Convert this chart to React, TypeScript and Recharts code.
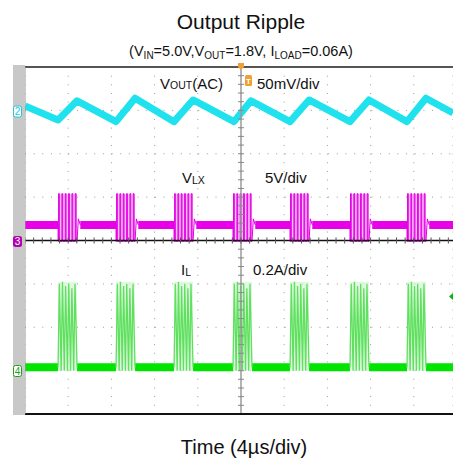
import { CartesianGrid, Line, LineChart, ReferenceArea, XAxis, YAxis } from 'recharts';

// time axis, µs (4µs/div, the 10th division is cropped at the right edge)
const screenEnd = 39.63;
const xMajor = [0, 4, 8, 12, 16, 20, 24, 28, 32, 36];
const yMajor = [-4, -3, -2, -1, 0, 1, 2, 3, 4];
const xMinor = Array.from({ length: 50 }, (_, i) => i * 0.8);
const yMinor = Array.from({ length: 41 }, (_, i) => -4 + i * 0.2);

// switching packets (PFM bursts), µs from left edge
const burstStart = [3.06, 8.43, 13.8, 19.26, 24.54, 30.09, 35.37];
const burstLength = 1.76;

// CH2 VOUT(AC) ripple, mV
const voutT = [0, 3.06, 4.82, 8.43, 10.19, 13.8, 15.56, 19.35, 20.93, 24.54, 26.3, 30.09, 31.85, 35.37, 37.13, 39.63];
const voutMv = [5, -11, 11, -13, 14, -13, 12, -13, 11, -13, 12, -13, 12, -13, 14, -3];

// CH3 VLX, V
const vlxIdle = 1.8;
const vlxHigh = 5.4;
const vlxLow = -0.1;
const vlxPulseRise = [0.05, 0.36, 0.67, 0.98, 1.29, 1.6];
const vlxPulseWidth = 0.07;
const vlxRingT = [0.12, 0.3];
const vlxRingV = [2.5, 1.8];

// CH4 IL, A
const ilIdle = 0.015;
const ilSpikeT = [0, 0.12, 0.29, 0.41, 0.58, 0.7, 0.87, 0.99, 1.16, 1.28, 1.45, 1.57, 1.76];
const ilSpikeA = [0.015, 0.4, 0.0, 0.41, 0.0, 0.39, 0.0, 0.4, 0.0, 0.38, 0.0, 0.4, 0.015];

type Pt = { t: number; v: number | null };

const voutData: Pt[] = voutT.map((t, i) => ({ t, v: voutMv[i] }));

const idleData = (level: number, gapAfter: number): Pt[] => {
  const out: Pt[] = [];
  let prev = 0;
  burstStart.forEach((s) => {
    out.push({ t: prev, v: level }, { t: s, v: level }, { t: s, v: null });
    prev = s + burstLength + gapAfter;
  });
  out.push({ t: prev, v: level }, { t: screenEnd, v: level });
  return out;
};

const vlxIdleData = idleData(vlxIdle, vlxRingT[vlxRingT.length - 1]);
const ilIdleData = idleData(ilIdle, 0);

const vlxBurstData: Pt[] = burstStart.flatMap((s) => [
  { t: s, v: vlxIdle },
  { t: s, v: vlxLow },
  ...vlxPulseRise.flatMap((r) => [
    { t: s + r, v: vlxLow },
    { t: s + r, v: vlxHigh },
    { t: s + r + vlxPulseWidth, v: vlxHigh },
    { t: s + r + vlxPulseWidth, v: vlxLow },
  ]),
  { t: s + burstLength, v: vlxLow },
  ...vlxRingT.map((dt, i) => ({ t: s + burstLength + dt, v: vlxRingV[i] })),
  { t: s + burstLength + 0.31, v: null },
]);

const ilBurstData: Pt[] = burstStart.flatMap((s) => [
  ...ilSpikeT.map((dt, i) => ({ t: s + dt, v: ilSpikeA[i] })),
  { t: s + burstLength + 0.01, v: null },
]);

// centre graticule lines and their minor ticks (in div units)
const centreH: Pt[] = [{ t: 0, v: 0 }, { t: screenEnd, v: 0 }];
const centreV: Pt[] = [{ t: 20, v: -4 }, { t: 20, v: 4 }];
const centreHTicks: Pt[] = xMinor.flatMap((t) => [{ t, v: -0.07 }, { t, v: 0.07 }, { t, v: null }]);
const centreVTicks: Pt[] = yMinor.flatMap((d) => [{ t: 19.72, v: d }, { t: 20.28, v: d }, { t: 20.28, v: null }]);

const FONT = '"Liberation Sans", Arial, sans-serif';

const App = () => {
  return (
    <div style={{ position: 'absolute', left: 0, top: 0, width: 453, height: 460, background: '#fff', overflow: 'hidden' }}>
      <LineChart width={453} height={460} margin={{ top: 67, right: 0, bottom: 46, left: 25 }}>
        <XAxis dataKey="t" type="number" domain={[0, screenEnd]} ticks={xMajor} hide allowDataOverflow />
        <YAxis type="number" domain={[-4, 4]} ticks={yMajor} hide allowDataOverflow />
        <YAxis yAxisId="vout" type="number" domain={[-350, 50]} hide allowDataOverflow />
        <YAxis yAxisId="vlx" type="number" domain={[-20, 20]} hide allowDataOverflow />
        <YAxis yAxisId="il" type="number" domain={[-0.2, 1.4]} hide allowDataOverflow />

        <CartesianGrid stroke="#9a9a9a" strokeDasharray="1 7.66" />

        <XAxis
          xAxisId="top"
          orientation="top"
          mirror
          type="number"
          domain={[0, screenEnd]}
          ticks={xMinor}
          tick={false}
          tickSize={3}
          axisLine={{ stroke: '#555', strokeWidth: 2 }}
          tickLine={{ stroke: '#777' }}
        />
        <XAxis
          xAxisId="bottom"
          orientation="bottom"
          mirror
          type="number"
          domain={[0, screenEnd]}
          ticks={xMinor}
          tick={false}
          tickSize={3}
          axisLine={{ stroke: '#111', strokeWidth: 2 }}
          tickLine={{ stroke: '#777' }}
        />
        <YAxis
          yAxisId="left"
          orientation="left"
          mirror
          type="number"
          domain={[-4, 4]}
          ticks={yMinor}
          tick={false}
          tickSize={3}
          axisLine={{ stroke: '#999' }}
          tickLine={{ stroke: '#888' }}
        />

        {burstStart.map((s) => (
          <ReferenceArea
            key={`va${s}`}
            yAxisId="vlx"
            x1={s}
            x2={s + burstLength}
            y1={vlxLow}
            y2={vlxHigh}
            fill="#f7b4f7"
            fillOpacity={0.85}
            stroke="none"
          />
        ))}
        {burstStart.map((s) => (
          <ReferenceArea
            key={`ia${s}`}
            yAxisId="il"
            x1={s}
            x2={s + burstLength}
            y1={0}
            y2={0.41}
            fill="#d4f7d4"
            fillOpacity={0.7}
            stroke="none"
          />
        ))}

        <Line data={voutData} dataKey="v" yAxisId="vout" stroke="#1fe2ee" strokeWidth={7} dot={false} isAnimationActive={false} strokeLinejoin="round" />
        <Line data={vlxIdleData} dataKey="v" yAxisId="vlx" stroke="#e800e8" strokeWidth={8} dot={false} isAnimationActive={false} />
        <Line data={vlxBurstData} dataKey="v" yAxisId="vlx" stroke="#e400e4" strokeWidth={1} dot={false} isAnimationActive={false} />
        <Line data={ilIdleData} dataKey="v" yAxisId="il" stroke="#00e400" strokeWidth={8} dot={false} isAnimationActive={false} />
        <Line data={ilBurstData} dataKey="v" yAxisId="il" stroke="#5fe05f" strokeWidth={1.3} dot={false} isAnimationActive={false} />

        <Line data={centreV} dataKey="v" stroke="#9a9a9a" strokeWidth={1.5} dot={false} isAnimationActive={false} />
        <Line data={centreVTicks} dataKey="v" stroke="#8a8a8a" strokeWidth={1} dot={false} isAnimationActive={false} />
        <Line data={centreH} dataKey="v" stroke="#111" strokeWidth={1.5} dot={false} isAnimationActive={false} />
        <Line data={centreHTicks} dataKey="v" stroke="#555" strokeWidth={1} dot={false} isAnimationActive={false} />
      </LineChart>

      <svg width={453} height={460} style={{ position: 'absolute', left: 0, top: 0, pointerEvents: 'none' }} fontFamily={FONT}>
        <rect x={13} y={65} width={12} height={350} fill="#c8c8c8" />
        <polygon points="238,63 244,63 244,67 241,70 238,67" fill="#f0a030" />
        <polygon points="449,296.5 453,293 453,300" fill="#10b010" />

        <text x={241} y={29} textAnchor="middle" fontSize={21} fill="#111">Output Ripple</text>
        <text x={241} y={56} textAnchor="middle" fontSize={14.5} fill="#111">
          <tspan>(V</tspan>
          <tspan fontSize={10} dy={3}>IN</tspan>
          <tspan dy={-3}>=5.0V,V</tspan>
          <tspan fontSize={10} dy={3}>OUT</tspan>
          <tspan dy={-3}>=1.8V, I</tspan>
          <tspan fontSize={10} dy={3}>LOAD</tspan>
          <tspan dy={-3}>=0.06A)</tspan>
        </text>

        <text x={160} y={89} fontSize={15} fill="#111">
          V<tspan fontSize={10.5}>OUT</tspan>(AC)
        </text>
        <rect x={245} y={75} width={7} height={11} rx={1.5} fill="#f0a030" />
        <text x={248.5} y={84} textAnchor="middle" fontSize={8} fontWeight="bold" fill="#fff">T</text>
        <text x={257} y={89} fontSize={15} fill="#111">50mV/div</text>

        <text x={182} y={183} fontSize={15} fill="#111">
          V<tspan fontSize={10.5} dy={1}>LX</tspan>
        </text>
        <text x={265} y={183} fontSize={15} fill="#111">5V/div</text>

        <text x={181} y={275} fontSize={15} fill="#111">
          I<tspan fontSize={10.5} dy={1}>L</tspan>
        </text>
        <text x={253} y={275} fontSize={15} fill="#111">0.2A/div</text>

        <rect x={13.5} y={106} width={8} height={11} rx={2} fill="#fff" stroke="#22c8d8" />
        <text x={17.5} y={115} textAnchor="middle" fontSize={10} fill="#22c8d8">2</text>
        <rect x={13} y={236} width={9} height={11} rx={2.5} fill="#b000b0" />
        <text x={17.5} y={245} textAnchor="middle" fontSize={10} fill="#fff">3</text>
        <rect x={13.5} y={365.5} width={8} height={11} rx={2} fill="#fff" stroke="#20a020" />
        <text x={17.5} y={374.5} textAnchor="middle" fontSize={10} fill="#20a020">4</text>

        <text x={244} y={454} textAnchor="middle" fontSize={20} fill="#111">Time (4µs/div)</text>
      </svg>
    </div>
  );
};

export default App;
